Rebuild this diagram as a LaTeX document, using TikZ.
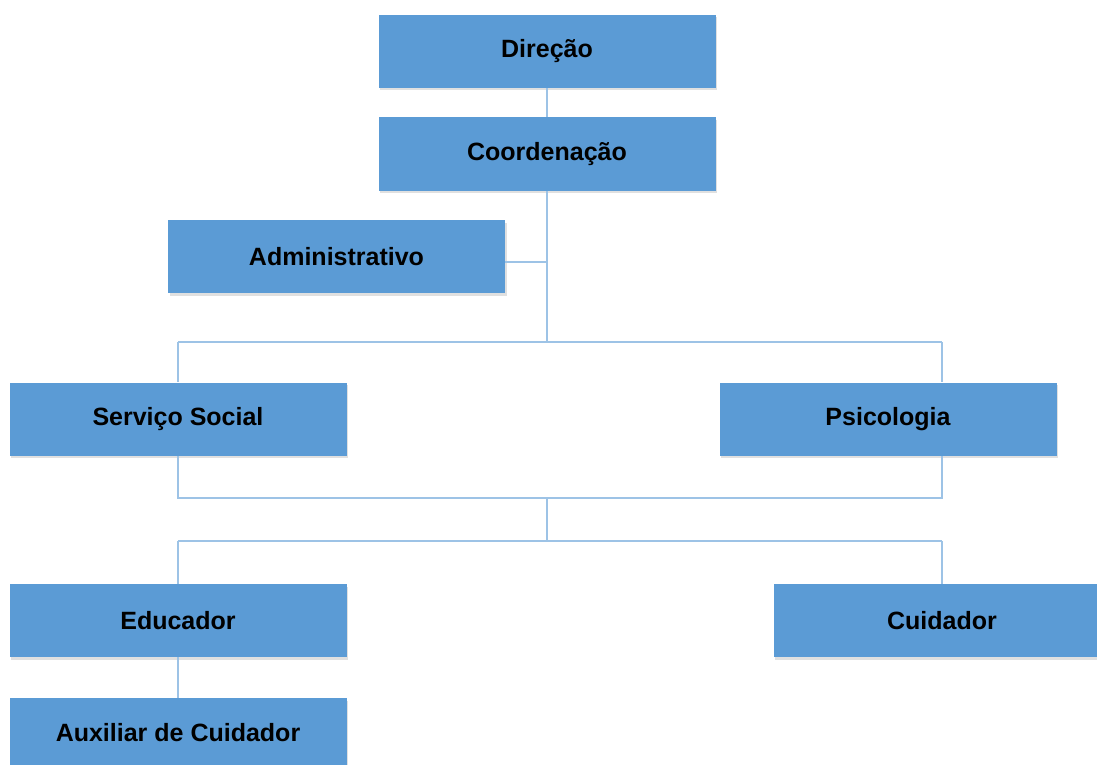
\documentclass[tikz,border=0pt]{standalone}
\usepackage{fontspec}
\setmainfont{Liberation Sans}
\usetikzlibrary{shadows,calc}
\definecolor{boxfill}{HTML}{5B9BD5}
\definecolor{linkcol}{HTML}{9DC3E6}
\tikzset{
  orgbox/.style={rectangle, fill=boxfill, minimum width=337pt, minimum height=73pt, inner sep=0pt,
    font=\fontsize{25}{30}\selectfont\bfseries, text=black,
    drop shadow={shadow xshift=1.5pt, shadow yshift=-2.5pt, opacity=0.2, fill=black!60}},
  link/.style={draw=linkcol, line width=2pt}
}
\begin{document}
\begin{tikzpicture}[x=1pt,y=-1pt]
\useasboundingbox (0,0) rectangle (1097,765);
\clip (0,0) rectangle (1097,765);
\fill[white] (0,0) rectangle (1097,765);
\coordinate (b1m) at (547,342);
\coordinate (b1l) at (178,342);
\coordinate (b1r) at (942,342);
\coordinate (b2l) at (178,498);
\coordinate (b2r) at (942,498);
\coordinate (b2m) at (547,498);
\coordinate (b3m) at (547,541);
\coordinate (b3l) at (178,541);
\coordinate (b3r) at (942,541);
\coordinate (admj) at (547,262);
\node[orgbox] (dir) at (547,51.5) {Direção};
\node[orgbox] (coord) at (547,154) {Coordenação};
\node[orgbox] (adm) at (336.5,256.5) {Administrativo};
\node[orgbox] (ss) at (178,419) {Serviço Social};
\node[orgbox] (psi) at (888,419) {Psicologia};
\node[orgbox] (edu) at (178,620.5) {Educador};
\node[orgbox] (cui) at (942,620.5) {Cuidador};
\node[orgbox] (aux) at (178,734.5) {};
\node[font=\fontsize{25}{30}\selectfont\bfseries] (auxt) at (178,733) {Auxiliar de Cuidador};
\draw[link] (dir.south) -- (coord.north);
\draw[link] (coord.south) -- (b1m);
\draw[link] (adm.east |- admj) -- (admj);
\draw[link] (b1l) -- (b1r);
\draw[link] (b1l) -- (ss.north);
\draw[link] (b1r) -- (b1r |- psi.north);
\draw[link] (ss.south) -- (b2l) -- (b2r) -- (b2r |- psi.south);
\draw[link] (b2m) -- (b3m);
\draw[link] (b3l) -- (b3r);
\draw[link] (b3l) -- (edu.north);
\draw[link] (b3r) -- (cui.north);
\draw[link] (edu.south) -- (aux.north);
\end{tikzpicture}
\end{document}
